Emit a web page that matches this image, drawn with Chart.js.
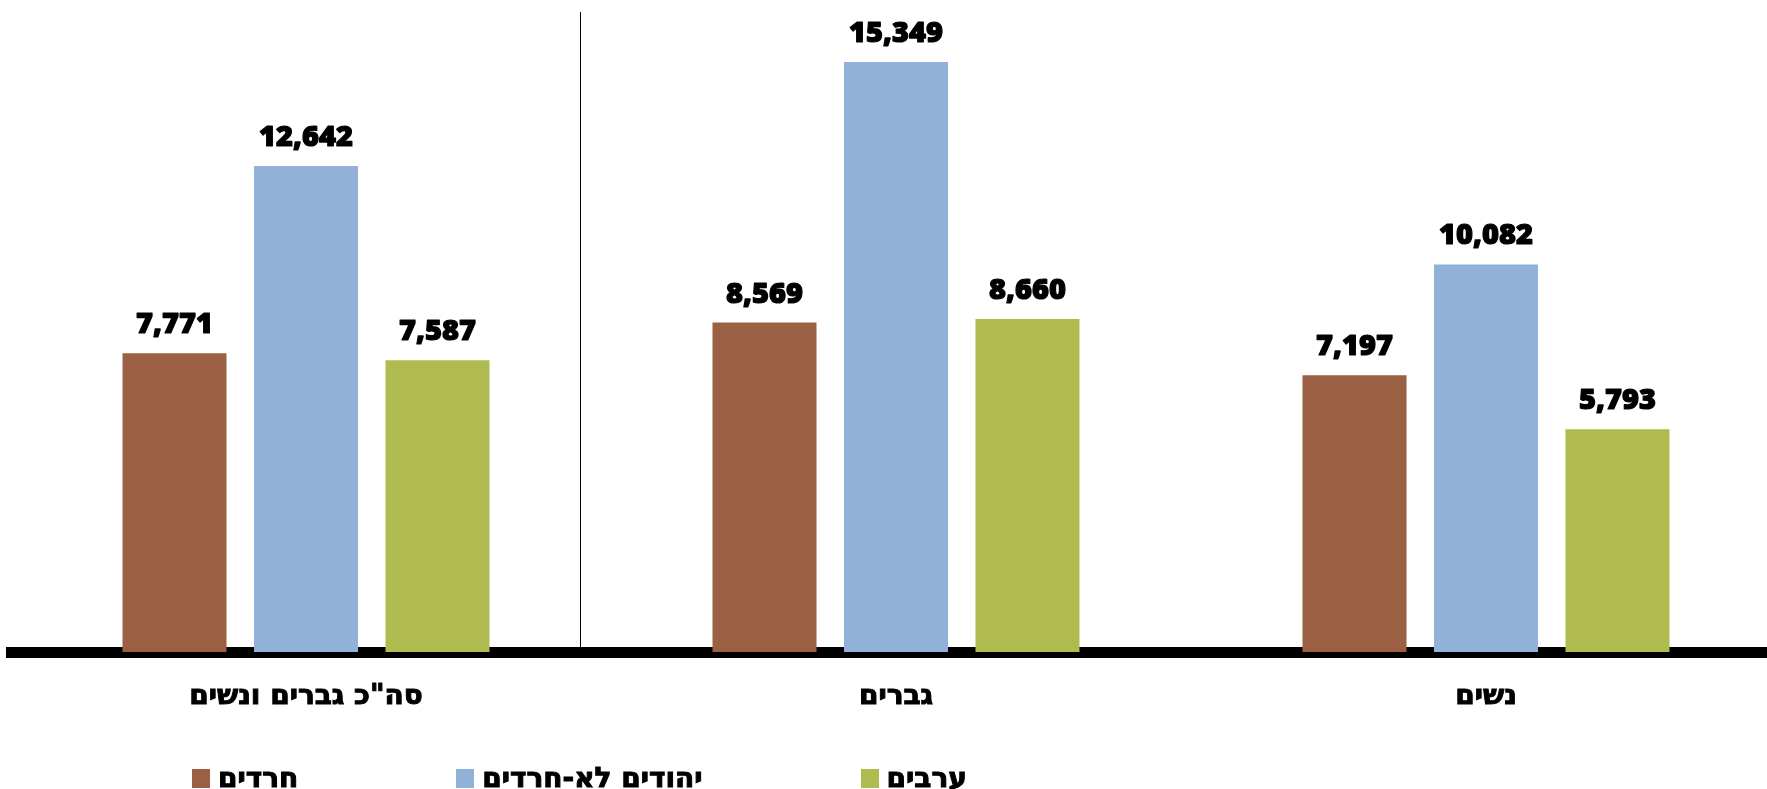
<!DOCTYPE html>
<html>
<head>
<meta charset="utf-8">
<script src="https://cdn.jsdelivr.net/npm/chart.js@4.4.0/dist/chart.umd.min.js"></script>
<style>
  html, body { margin: 0; padding: 0; background: #fff; overflow: hidden; }
  #wrap { position: relative; width: 1767px; height: 789px; overflow: hidden; }
  #myChart { position: absolute; left: 0; top: 0; }
  #legend { position: absolute; left: 192px; top: 767px; display: flex; gap: 158px; }
  .item { display: flex; align-items: center; font: bold 28px 'DejaVu Sans', sans-serif; line-height: 22px; color: #000; -webkit-text-stroke: 1px #000; }
  .box { width: 18px; height: 19px; margin-right: 8px; }
</style>
</head>
<body>
<div id="wrap">
  <canvas id="myChart" width="1790" height="789"></canvas>
  <div id="legend"></div>
</div>
<script>
var categories = ['סה"כ גברים ונשים', 'גברים', 'נשים'];
var seriesNames = ['חרדים', 'יהודים לא-חרדים', 'ערבים'];
var haredim = [7771, 8569, 7197];
var nonHarediJews = [12642, 15349, 10082];
var arabs = [7587, 8660, 5793];
var colors = ['#9B6043', '#92B1D8', '#AFBB4F'];

var hebFont = "'DejaVu Sans', sans-serif";

// value labels above the bars
var barLabels = {
    id: 'barLabels',
    afterDatasetsDraw: function(chart) {
        var ctx = chart.ctx;
        ctx.save();
        ctx.font = "800 29px 'Open Sans', 'DejaVu Sans', sans-serif";
        ctx.fillStyle = '#000';
        ctx.strokeStyle = '#000';
        ctx.lineWidth = 1.2;
        ctx.lineJoin = 'round';
        ctx.textAlign = 'center';
        ctx.textBaseline = 'alphabetic';
        chart.data.datasets.forEach(function(ds, i) {
            chart.getDatasetMeta(i).data.forEach(function(bar, j) {
                var txt = ds.data[j].toLocaleString('en-US');
                ctx.fillText(txt, bar.x, bar.y - 20);
                ctx.strokeText(txt, bar.x, bar.y - 20);
            });
        });
        ctx.restore();
    }
};

// thin line separating the total group
var divider = {
    id: 'divider',
    beforeDatasetsDraw: function(chart) {
        var ctx = chart.ctx;
        var x = Math.round(chart.scales.x.getPixelForValue(0.465)) + 0.5;
        ctx.save();
        ctx.strokeStyle = '#000';
        ctx.lineWidth = 1;
        ctx.beginPath();
        ctx.moveTo(x, chart.chartArea.top);
        ctx.lineTo(x, chart.chartArea.bottom);
        ctx.stroke();
        ctx.restore();
    }
};

var chart1 = document.getElementById('myChart');
var myChart = new Chart(chart1, {
    type: 'bar',
    data: {
        labels: categories,
        datasets: [{
            label: seriesNames[0],
            data: haredim,
            backgroundColor: colors[0]
        }, {
            label: seriesNames[1],
            data: nonHarediJews,
            backgroundColor: colors[1]
        }, {
            label: seriesNames[2],
            data: arabs,
            backgroundColor: colors[2]
        }]
    },
    options: {
        responsive: false,
        animation: false,
        devicePixelRatio: 1,
        categoryPercentage: 0.6686,
        barPercentage: 0.791,
        layout: {
            padding: { left: 11, right: 9, top: 12, bottom: 77 }
        },
        plugins: {
            legend: { display: false },
            tooltip: { enabled: false }
        },
        scales: {
            x: {
                z: 1,
                grid: { display: false, drawTicks: false },
                border: { display: true, color: '#000', width: 11 },
                ticks: {
                    color: '#000',
                    padding: 28,
                    textStrokeColor: '#000',
                    textStrokeWidth: 1,
                    font: { family: hebFont, size: 28, weight: 'bold' }
                },
                afterFit: function(scale) { scale.height = 60; }
            },
            y: {
                display: false,
                min: 0,
                max: 16650
            }
        }
    },
    plugins: [divider, barLabels]
});

// legend as html below the chart
var legend = document.getElementById('legend');
myChart.data.datasets.forEach(function(ds) {
    var item = document.createElement('div');
    item.className = 'item';
    var box = document.createElement('span');
    box.className = 'box';
    box.style.background = ds.backgroundColor;
    var txt = document.createElement('span');
    txt.textContent = ds.label;
    item.appendChild(box);
    item.appendChild(txt);
    legend.appendChild(item);
});
</script>
</body>
</html>
